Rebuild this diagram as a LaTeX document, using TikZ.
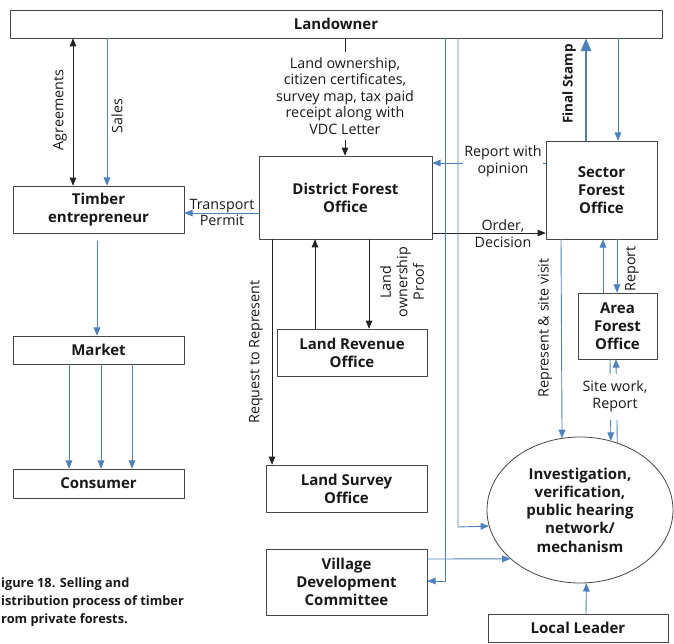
\documentclass[tikz,border=0pt]{standalone}
\usepackage{fontspec}
\setmainfont{Open Sans}
\usetikzlibrary{arrows}
\usetikzlibrary{shapes.geometric}
\definecolor{lineblue}{RGB}{79,129,189}
\definecolor{lineblack}{RGB}{35,35,35}
\definecolor{boxgray}{RGB}{70,70,70}
\definecolor{textblack}{RGB}{25,25,25}

\begin{document}
\begin{tikzpicture}[line cap=round,line join=round,>=triangle 45,x=1pt,y=-1pt,
  box/.style={draw=boxgray,line width=0.8pt,align=center,inner sep=1pt,text=textblack,
    font=\bfseries\fontsize{15}{18}\selectfont},
  lbl/.style={align=center,inner sep=1pt,text=textblack,font=\fontsize{14.3}{16.5}\selectfont},
  blue line/.style={draw=lineblue,line width=0.9pt},
  black line/.style={draw=lineblack,line width=0.8pt}]
\useasboundingbox (0,0) rectangle (674,644);
% boxes
\node[box,minimum width=652pt,minimum height=28pt] (land) at (336,24) {Landowner};
\node[box,minimum width=171pt,minimum height=47pt] (timber) at (98.5,209.5) {Timber\\entrepreneur};
\node[box,minimum width=171pt,minimum height=28pt] (market) at (98.5,350) {Market};
\node[box,minimum width=171pt,minimum height=29pt] (consumer) at (98.5,483.5) {Consumer};
\node[box,minimum width=173pt,minimum height=83pt] (dfo) at (345.5,197.5) {District Forest\\Office};
\node[box,minimum width=111pt,minimum height=98pt] (sfo) at (601.5,190) {Sector\\Forest\\Office};
\node[box,minimum width=79pt,minimum height=66pt] (afo) at (617.5,326) {Area\\Forest\\Office};
\node[box,minimum width=150pt,minimum height=47pt] (lro) at (352,352.5) {Land Revenue\\Office};
\node[box,minimum width=161pt,minimum height=47pt] (lso) at (346.5,488.5) {Land Survey\\Office};
\node[box,minimum width=161pt,minimum height=66pt] (vdc) at (346.5,582) {Village\\Development\\Committee};
\node[box,minimum width=180pt,minimum height=28pt] (leader) at (578,628) {Local Leader};
\node[box,ellipse,minimum width=186pt,minimum height=146pt,inner sep=0pt,
  font=\bfseries\fontsize{15}{18.3}\selectfont] (inv) at (580,510)
  {Investigation,\\verification,\\public hearing\\network/\\mechanism};
% caption
\node[anchor=north west,align=left,inner sep=0pt,text=textblack,
  font=\bfseries\fontsize{12.8}{18}\selectfont] (caption) at (1,578)
  {igure 18. Selling and\\istribution process of timber\\rom private forests.};

% columns and rows
\coordinate (xAgr) at (73,0);
\coordinate (xSal) at (107,0);
\coordinate (tbOut) at (97,241);
\coordinate (xDoc) at (345,0);
\coordinate (xReq) at (272,0);
\coordinate (xLroUp) at (315,0);
\coordinate (xLroDn) at (369,0);
\coordinate (xVdc) at (445,0);
\coordinate (xInv) at (458,0);
\coordinate (xRep) at (561,0);
\coordinate (xStampUp) at (586,0);
\coordinate (xStampDn) at (618,0);
\coordinate (xAfoUp) at (603,0);
\coordinate (xAfoDn) at (617,0);
\coordinate (xSiteDn) at (610,0);
\coordinate (xSiteUp) at (616,0);
\coordinate (xLeader) at (586,0);
\coordinate (yOpin) at (0,163);
\coordinate (yTrans) at (0,213);
\coordinate (yOrder) at (0,233);
\coordinate (yInv) at (0,527);
\coordinate (yVdcIn) at (0,559);
\coordinate (yVdcOut) at (0,581);

% landowner and timber trade
\draw[black line,<->] (land.south -| xAgr) -- (timber.north -| xAgr);
\draw[blue line,->] (land.south -| xSal) -- (timber.north -| xSal);
\node[lbl,rotate=90] (agrlbl) at (60,110) {Agreements};
\node[lbl,rotate=90] (sallbl) at (117,116) {Sales};
\draw[blue line,->] (tbOut) -- (market.north -| tbOut);
\foreach \cx in {69,101,132}{
  \coordinate (xC) at (\cx,0);
  \draw[blue line,->] (market.south -| xC) -- (consumer.north -| xC);
}
\draw[blue line,->] (dfo.west |- yTrans) -- (timber.east |- yTrans);
\node[lbl] (translbl) at (222,212.5) {Transport\\Permit};

% district forest office
\draw[black line,->] (land.south -| xDoc) -- (dfo.north -| xDoc);
\node[lbl,fill=white,inner ysep=5pt] (doclbl) at (345,96)
  {Land ownership,\\citizen certificates,\\survey map, tax paid\\receipt along with\\VDC Letter};
\draw[blue line,->] (sfo.west |- yOpin) -- (dfo.east |- yOpin);
\node[lbl,fill=white] (opinlbl) at (503,161.5) {Report with\\opinion};
\draw[black line,->] (dfo.east |- yOrder) -- (sfo.west |- yOrder);
\node[lbl] (orderlbl) at (503,233.5) {Order,\\Decision};
\draw[black line,->] (lro.north -| xLroUp) -- (dfo.south -| xLroUp);
\draw[black line,->] (dfo.south -| xLroDn) -- (lro.north -| xLroDn);
\node[lbl,rotate=90] (prooflbl) at (402,282) {Land\\ownership\\Proof};
\draw[black line,->] (dfo.south -| xReq) -- (lso.north -| xReq);
\node[lbl,rotate=90] (reqlbl) at (256,352) {Request to Represent};

% sector and area forest office
\draw[blue line,line width=2pt,->] (sfo.north -| xStampUp) -- (land.south -| xStampUp);
\draw[blue line,->] (land.south -| xStampDn) -- (sfo.north -| xStampDn);
\node[lbl,rotate=90,font=\bfseries\fontsize{13.5}{16.5}\selectfont] (stamplbl) at (569,84) {Final Stamp};
\draw[blue line,->] (afo.north -| xAfoUp) -- (sfo.south -| xAfoUp);
\draw[blue line,->] (sfo.south -| xAfoDn) -- (afo.north -| xAfoDn);
\node[lbl,rotate=90] (replbl) at (632,269) {Report};
\draw[blue line,->] (sfo.south -| xRep) -- (inv.104.9);
\node[lbl,rotate=90] (visitlbl) at (545,328) {Represent \& site visit};
\draw[blue line,->] (afo.south -| xSiteDn) -- (inv.66.5);
\draw[blue line,->] (inv.61.9) -- (afo.south -| xSiteUp);
\node[lbl,fill=white,minimum height=46pt] (sitelbl) at (615,396.5) {Site work,\\Report};

% investigation mechanism
\draw[blue line,->] (land.south -| xInv) -- (xInv |- yInv) -- (inv.190.65);
\draw[blue line,->] (land.south -| xVdc) -- (xVdc |- yVdcOut) -- (vdc.east |- yVdcOut);
\draw[blue line,->] (vdc.east |- yVdcIn) -- (inv.215.4);
\draw[blue line,->] (leader.north -| xLeader) -- (inv.-85.3);
\end{tikzpicture}
\end{document}
